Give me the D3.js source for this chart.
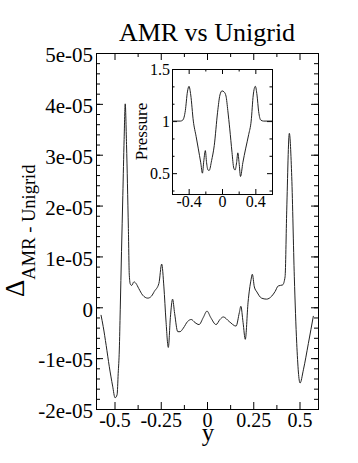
<!DOCTYPE html>
<html>
<head>
<meta charset="utf-8">
<script src="https://cdn.jsdelivr.net/npm/d3@7"></script>
<style>
  body { margin: 0; background: #fff; }
  text { font-family: "Liberation Serif", "Times New Roman", serif; fill: #000; }
</style>
</head>
<body>
<svg class="chart"></svg>
<script>
// difference between AMR and unigrid runs, plus the pressure profile inset

var serif = '"Liberation Serif", "Times New Roman", serif';

var diffY = [-0.573, -0.561, -0.545, -0.528, -0.51, -0.497, -0.486, -0.48, -0.474, -0.469,
  -0.462, -0.455, -0.448, -0.442, -0.435, -0.425, -0.42, -0.414, -0.407, -0.395,
  -0.384, -0.369, -0.348, -0.32, -0.3, -0.285, -0.26, -0.245, -0.233, -0.222,
  -0.209, -0.198, -0.186, -0.175, -0.158, -0.146, -0.128, -0.105, -0.085, -0.065,
  -0.043, -0.02, 0, 0.02, 0.049, 0.07, 0.088, 0.12, 0.157, 0.175,
  0.183, 0.195, 0.207, 0.222, 0.238, 0.245, 0.256, 0.27, 0.295, 0.322,
  0.35, 0.368, 0.385, 0.409, 0.422, 0.431, 0.445, 0.458, 0.472, 0.485,
  0.503, 0.521, 0.548, 0.575];
var diffVal = [-0.15, -0.38, -0.75, -1.17, -1.55, -1.78, -1.72, -1.3, -0.84, -0.05,
  1.1, 2.2, 3.3, 4.0, 3.2, 1.55, 0.63, 0.45, 0.43, 0.5,
  0.47, 0.37, 0.24, 0.18, 0.22, 0.31, 0.47, 0.85, 0.4, -0.25,
  -0.79, -0.2, 0.16, -0.12, -0.48, -0.48, -0.41, -0.28, -0.24, -0.3,
  -0.34, -0.2, -0.075, -0.2, -0.34, -0.24, -0.19, -0.28, -0.37, -0.1,
  0.02, -0.3, -0.63, 0.1, 0.54, 0.65, 0.4, 0.3, 0.18, 0.16,
  0.22, 0.31, 0.42, 0.44, 0.6, 1.91, 3.42, 2.57, 0.6, -0.71,
  -1.49, -1.23, -0.71, -0.17].map(function(v) { return v * 1e-5; });

var presY = [-0.6, -0.5, -0.47, -0.44, -0.415, -0.396, -0.375, -0.344, -0.31, -0.284,
  -0.255, -0.235, -0.218, -0.2, -0.185, -0.168, -0.154, -0.125, -0.093, -0.053,
  -0.025, 0, 0.025, 0.048, 0.07, 0.093, 0.12, 0.141, 0.157, 0.175,
  0.19, 0.205, 0.222, 0.25, 0.283, 0.32, 0.35, 0.375, 0.4, 0.42,
  0.44, 0.465, 0.5, 0.6];
var presVal = [1.0, 1.0, 1.01, 1.1, 1.28, 1.334, 1.25, 1.0, 0.85, 0.733,
  0.6, 0.5, 0.62, 0.717, 0.6, 0.53, 0.526, 0.62, 0.765, 1.085,
  1.25, 1.29, 1.28, 1.24, 1.1, 0.925, 0.7, 0.55, 0.53, 0.6,
  0.695, 0.6, 0.468, 0.6, 0.733, 0.87, 1.0, 1.25, 1.334, 1.25,
  1.09, 1.01, 1.0, 1.0];

var xTicks = [-0.5, -0.25, 0, 0.25, 0.5];
var xTickLabels = ["-0.5", "-0.25", "0", "0.25", "0.5"];
var yTicks = [-2e-5, -1e-5, 0, 1e-5, 2e-5, 3e-5, 4e-5, 5e-5];
var yTickLabels = ["-2e-05", "-1e-05", "0", "1e-05", "2e-05", "3e-05", "4e-05", "5e-05"];

var inXTicks = [-0.4, 0, 0.4];
var inXTickLabels = ["-0.4", "0", "0.4"];
var inYTicks = [0.5, 1, 1.5];
var inYTickLabels = ["0.5", "1", "1.5"];

var W = 358, H = 463;
var chart = d3.select(".chart").attr("width", W).attr("height", H);

var x = d3.scaleLinear().domain([-0.6, 0.6]).range([96, 318]);
var y = d3.scaleLinear().domain([-2e-5, 5e-5]).range([409, 53]);
var ix = d3.scaleLinear().domain([-0.6, 0.6]).range([172, 272]);
var iy = d3.scaleLinear().domain([0.3, 1.5]).range([194, 69]);

function ticksOf(scale, step) {
  var d = scale.domain(), out = [];
  for (var v = Math.ceil(d[0] / step - 1e-6) * step; v <= d[1] + 1e-12; v += step) out.push(v);
  return out;
}

function makeAxis(i, sx, sy) {
  if (i == 0) return d3.axisBottom(sx);
  if (i == 1) return d3.axisTop(sx);
  if (i == 2) return d3.axisLeft(sy);
  return d3.axisRight(sy);
}

// draws inward ticks on all four sides of a box, labels only bottom/left
function frame(g, sx, sy, o) {
  var r = sx.range(), b = sy.range();
  var pos = [
    "translate(0," + b[0] + ")", "translate(0," + b[1] + ")",
    "translate(" + r[0] + ",0)", "translate(" + r[1] + ",0)"
  ];
  for (var i = 0; i < 4; i++) {
    var isX = i < 2;
    var minAx = makeAxis(i, sx, sy).tickValues(isX ? o.xMin : o.yMin)
      .tickSize(-o.minLen).tickFormat("");
    var gMin = g.append("g").attr("transform", pos[i]).call(minAx);
    gMin.select(".domain").remove();

    var labs = isX ? o.xLab : o.yLab;
    var majAx = makeAxis(i, sx, sy).tickValues(isX ? o.xMaj : o.yMaj).tickSize(-o.majLen);
    if (i == 0 || i == 2) {
      majAx.tickFormat(function(d, k) { return labs[k]; }).tickPadding(isX ? o.xPad : o.yPad);
    } else {
      majAx.tickFormat("");
    }
    var ga = g.append("g").attr("transform", pos[i]).call(majAx);
    ga.select(".domain").remove();
    ga.attr("font-family", serif);
    ga.selectAll("text")
      .attr("font-family", serif)
      .style("font-family", serif)
      .style("font-size", (isX ? o.xFont : o.yFont) + "px")
      .attr("dy", isX ? o.xDy : o.yDy);
  }
  g.selectAll("line").attr("stroke", "#000");
  g.append("rect")
    .attr("x", r[0] + 0.5).attr("y", b[1] + 0.5)
    .attr("width", r[1] - r[0]).attr("height", b[0] - b[1])
    .attr("fill", "none").attr("stroke", "#000").attr("stroke-width", 1);
}

var main = chart.append("g");
frame(main, x, y, {
  xMaj: xTicks, xMin: ticksOf(x, 0.125).filter(function(v) { return Math.abs(Math.round(v * 8)) % 2 == 1; }),
  yMaj: yTicks, yMin: ticksOf(y, 2e-6),
  xLab: xTickLabels, yLab: yTickLabels,
  majLen: 7, minLen: 4, xPad: 4, yPad: 3,
  xFont: 20, yFont: 21, xDy: "0.68em", yDy: "0.42em"
});

main.append("path")
  .datum(d3.range(diffY.length))
  .attr("fill", "none")
  .attr("stroke", "#222")
  .attr("stroke-width", 1)
  .attr("d", d3.line()
    .x(function(i) { return x(diffY[i]); })
    .y(function(i) { return y(diffVal[i]); })
    .curve(d3.curveMonotoneX));

chart.append("text")
  .attr("x", 207).attr("y", 41)
  .attr("text-anchor", "middle")
  .style("font-family", serif)
  .style("font-size", "26px")
  .text("AMR vs Unigrid");

chart.append("text")
  .attr("x", 208).attr("y", 441)
  .attr("text-anchor", "middle")
  .style("font-family", serif)
  .style("font-size", "25px")
  .text("y");

var ylab = chart.append("text")
  .attr("transform", "translate(24,297) rotate(-90)")
  .attr("text-anchor", "start")
  .style("font-family", serif);
ylab.append("tspan").style("font-size", "27px").text("\u0394");
ylab.append("tspan").style("font-size", "18.5px").attr("dy", 11).text("AMR - Unigrid");

// inset
var inset = chart.append("g");
inset.append("rect")
  .attr("x", 172).attr("y", 69).attr("width", 100).attr("height", 125)
  .attr("fill", "#fff");
frame(inset, ix, iy, {
  xMaj: inXTicks, xMin: [-0.2, 0.2],
  yMaj: inYTicks, yMin: [1 / 3, 2 / 3, 5 / 6, 7 / 6, 4 / 3],
  xLab: inXTickLabels, yLab: inYTickLabels,
  majLen: 5, minLen: 2.5, xPad: 2, yPad: 2,
  xFont: 16, yFont: 16, xDy: "0.71em", yDy: "0.34em"
});

inset.append("path")
  .datum(d3.range(presY.length))
  .attr("fill", "none")
  .attr("stroke", "#222")
  .attr("stroke-width", 1)
  .attr("d", d3.line()
    .x(function(i) { return ix(presY[i]); })
    .y(function(i) { return iy(presVal[i]); })
    .curve(d3.curveMonotoneX));

chart.append("text")
  .attr("transform", "translate(147,131.5) rotate(-90)")
  .attr("text-anchor", "middle")
  .style("font-family", serif)
  .style("font-size", "17px")
  .text("Pressure");
</script>
</body>
</html>
